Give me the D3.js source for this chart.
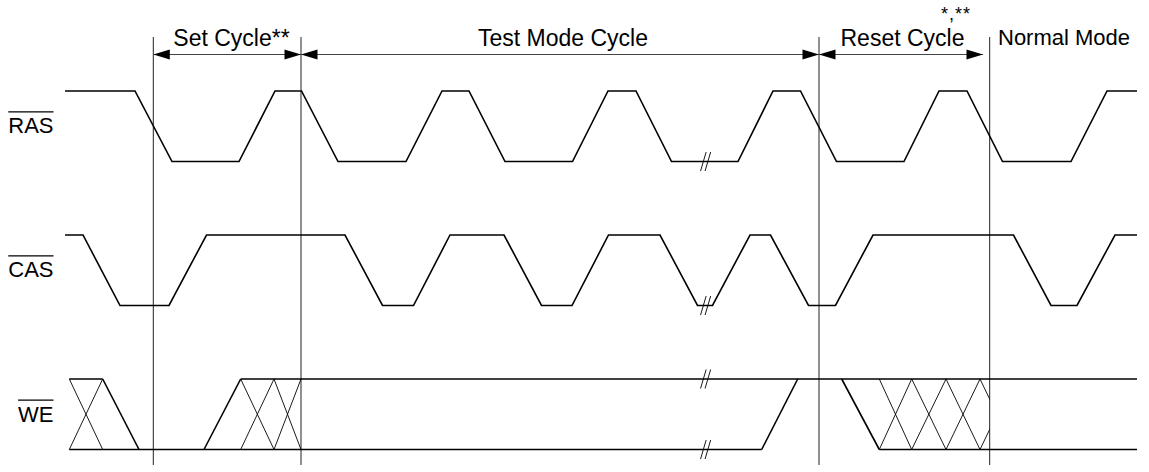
<!DOCTYPE html>
<html lang="en">
<head>
    <meta charset="UTF-8">
    <title>Test Mode Timing</title>
    <style>
        body { margin: 0; background: #fff; }
        svg text { font-family: "Liberation Sans", Arial, sans-serif; fill: #000; }
    </style>
</head>
<body>
    <svg id="chart" width="1149" height="472"></svg>
    <script src="https://d3js.org/d3.v7.min.js"></script>
    <script>
        // signal rows, top to bottom
        const signals = ["RAS", "CAS", "WE"];

        // waveform breakpoints: [time, level]
        const rasWave = [
            [0, 1], [70, 1], [107, 0], [174, 0], [210, 1], [236.5, 1], [273, 0], [341, 0],
            [377, 1], [404, 1], [440, 0], [507.5, 0], [543, 1], [571, 1], [606.5, 0], [673, 0],
            [708, 1], [735.5, 1], [771.5, 0], [839, 0], [874, 1], [902, 1], [937.5, 0], [1006, 0],
            [1042, 1], [1072, 1]
        ];
        const casWave = [
            [0, 1], [18, 1], [55, 0], [104, 0], [141.5, 1], [280, 1], [317.5, 0], [348.5, 0],
            [385, 1], [439, 1], [476.5, 0], [507, 0], [543.5, 1], [595, 1], [632.5, 0], [647.5, 0],
            [685, 1], [705.5, 1], [743.5, 0], [770.5, 0], [808, 1], [948.5, 1], [986, 0], [1012, 0],
            [1050, 1], [1072, 1]
        ];

        // WE is drawn as level segments, transitions and don't-care crosses
        const weHigh = [[4.3, 37.7], [175.7, 1072]];
        const weLow = [[4.3, 696.7], [814.3, 1072]];
        const weEdges = [[37.7, 1, 74, 0], [139, 0, 175.7, 1], [696.7, 0, 732.7, 1], [776.7, 1, 814.3, 0]];
        const weCross = [[4.3, 37.7], [175.7, 209], [209, 236], [814.3, 846.7], [846.7, 881], [881, 915], [915, 949]];

        // time axis breaks (//)
        const breakTime = 640.6;
        const breakMarks = [["RAS", 0], ["CAS", 0], ["WE", 1], ["WE", 0]];

        // cycle boundaries and labels
        const boundaries = [88.3, 236, 754, 924.7];
        const cycles = [
            { name: "Set Cycle**", from: 88.3, to: 236, labelAt: 166.5 },
            { name: "Test Mode Cycle", from: 236, to: 754, labelAt: 498 },
            { name: "Reset Cycle", from: 754, to: 918, labelAt: 837.5 }
        ];
        const normalLabel = { name: "Normal Mode", at: 933 };
        const resetNote = { name: "*,**", at: 876 };

        const svg = d3.select("#chart");

        const x = d3.scaleLinear().domain([0, 1072]).range([65, 1137]);
        const row = d3.scalePoint().domain(signals).range([91, 379]);
        const level = d3.scaleLinear().domain([0, 1]).range([70.5, 0]);
        const yOf = (sig, l) => row(sig) + level(l);

        const line = sig => d3.line().x(d => x(d[0])).y(d => yOf(sig, d[1]));

        // clip for the reset crosses
        svg.append("defs").append("clipPath").attr("id", "resetClip")
            .append("rect")
            .attr("x", 0).attr("y", 0)
            .attr("width", x(boundaries[3])).attr("height", 472);

        // cycle boundary lines
        svg.selectAll(".bound")
            .data(boundaries)
            .enter().append("line")
            .attr("class", "bound")
            .attr("x1", d => x(d)).attr("x2", d => x(d))
            .attr("y1", 37).attr("y2", 465)
            .attr("stroke", "#222")
            .attr("stroke-width", 1);

        // waveforms
        svg.append("path").attr("d", line("RAS")(rasWave))
            .attr("fill", "none").attr("stroke", "#000").attr("stroke-width", 1.6);
        svg.append("path").attr("d", line("CAS")(casWave))
            .attr("fill", "none").attr("stroke", "#000").attr("stroke-width", 1.6);

        const we = svg.append("g");
        weHigh.forEach(s => we.append("line")
            .attr("x1", x(s[0])).attr("x2", x(s[1]))
            .attr("y1", yOf("WE", 1)).attr("y2", yOf("WE", 1)));
        weLow.forEach(s => we.append("line")
            .attr("x1", x(s[0])).attr("x2", x(s[1]))
            .attr("y1", yOf("WE", 0)).attr("y2", yOf("WE", 0)));
        weEdges.forEach(s => we.append("line")
            .attr("x1", x(s[0])).attr("y1", yOf("WE", s[1]))
            .attr("x2", x(s[2])).attr("y2", yOf("WE", s[3])));
        we.selectAll("line").attr("stroke", "#000").attr("stroke-width", 1.6);

        const cross = svg.append("g").attr("clip-path", "url(#resetClip)");
        weCross.forEach(s => {
            cross.append("line")
                .attr("x1", x(s[0])).attr("y1", yOf("WE", 1))
                .attr("x2", x(s[1])).attr("y2", yOf("WE", 0));
            cross.append("line")
                .attr("x1", x(s[0])).attr("y1", yOf("WE", 0))
                .attr("x2", x(s[1])).attr("y2", yOf("WE", 1));
        });
        cross.selectAll("line").attr("stroke", "#000").attr("stroke-width", 0.9);

        // break marks
        breakMarks.forEach(b => {
            const cy = yOf(b[0], b[1]);
            [-2.25, 2.25].forEach(off => {
                svg.append("line")
                    .attr("x1", x(breakTime) + off - 2.8).attr("y1", cy + 9.5)
                    .attr("x2", x(breakTime) + off + 2.8).attr("y2", cy - 9.5)
                    .attr("stroke", "#000").attr("stroke-width", 0.9);
            });
        });

        // cycle arrows
        const arrowY = 54.5;
        const head = (tip, dir) => {
            const len = 16.5, half = 5;
            return `M${tip},${arrowY} L${tip - dir * len},${arrowY - half} L${tip - dir * len},${arrowY + half} Z`;
        };
        cycles.forEach(c => {
            svg.append("line")
                .attr("x1", x(c.from)).attr("x2", x(c.to))
                .attr("y1", arrowY).attr("y2", arrowY)
                .attr("stroke", "#444").attr("stroke-width", 1.2);
            svg.append("path").attr("d", head(x(c.from), -1)).attr("fill", "#000");
            svg.append("path").attr("d", head(x(c.to), 1)).attr("fill", "#000");
            svg.append("text")
                .attr("x", x(c.labelAt))
                .attr("y", 45.5)
                .attr("text-anchor", "middle")
                .style("font-size", "23px")
                .text(c.name);
        });

        svg.append("text")
            .attr("x", x(normalLabel.at)).attr("y", 45)
            .style("font-size", "22px")
            .text(normalLabel.name);

        svg.append("text")
            .attr("x", x(resetNote.at)).attr("y", 20)
            .style("font-size", "18px")
            .style("letter-spacing", "1px")
            .text(resetNote.name);

        // signal names with overline (active low)
        const labelBase = { RAS: 42.3, CAS: 42.3, WE: 42.7 };
        signals.forEach(s => {
            const t = svg.append("text")
                .attr("x", 53.5).attr("y", row(s) + labelBase[s])
                .attr("text-anchor", "end")
                .style("font-size", "22px")
                .text(s);
            const w = t.node().getComputedTextLength();
            svg.append("line")
                .attr("x1", 53.5 - w).attr("x2", 53.5)
                .attr("y1", row(s) + labelBase[s] - 21.5).attr("y2", row(s) + labelBase[s] - 21.5)
                .attr("stroke", "#000").attr("stroke-width", 1.3);
        });
    </script>
</body>
</html>
